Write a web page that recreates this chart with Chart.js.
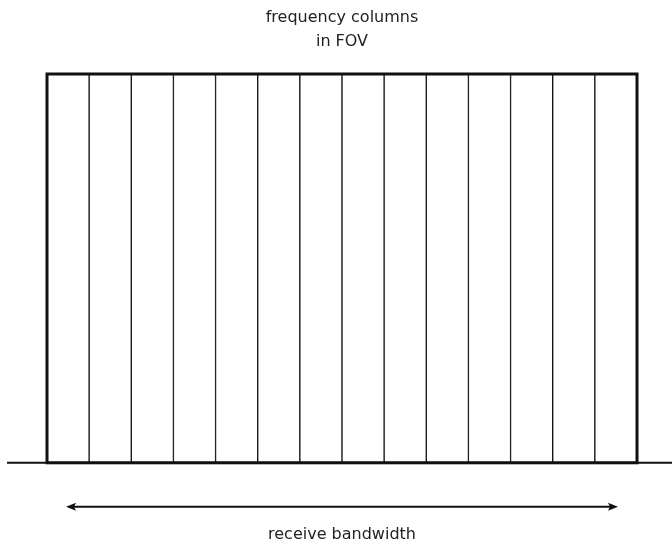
<!DOCTYPE html>
<html>
<head>
<meta charset="utf-8">
<script src="https://cdn.jsdelivr.net/npm/chart.js@4"></script>
<style>
  html, body { margin: 0; padding: 0; background: #fff; }
  #wrap { width: 672px; height: 546px; }
</style>
</head>
<body>
<div id="wrap"><canvas id="fov"></canvas></div>
<script>
// 14 frequency columns, each filling the full height of the FOV
var columns = ["1", "2", "3", "4", "5", "6", "7", "8", "9", "10", "11", "12", "13", "14"];
var heights = [1, 1, 1, 1, 1, 1, 1, 1, 1, 1, 1, 1, 1, 1];
var topTitle = ["frequency columns", "in FOV"];
var bottomTitle = "receive bandwidth";

var fontFamily = "'Humor Sans', 'DejaVu Sans', sans-serif";

// outline, baseline and the bandwidth arrow
var fovDecor = {
    id: "fovDecor",
    afterDatasetsDraw: function (chart) {
        var ctx = chart.ctx;
        var x = chart.scales.x;
        var y = chart.scales.y;
        var half = (x.getPixelForValue(1) - x.getPixelForValue(0)) / 2;
        var left = x.getPixelForValue(0) - half;
        var right = x.getPixelForValue(columns.length - 1) + half;
        var top = y.getPixelForValue(1);
        var bottom = y.getPixelForValue(0);

        ctx.save();
        ctx.strokeStyle = "#111";

        // baseline
        ctx.lineWidth = 2;
        ctx.beginPath();
        ctx.moveTo(7, bottom);
        ctx.lineTo(chart.width, bottom);
        ctx.stroke();

        // outer box
        ctx.lineWidth = 3;
        ctx.strokeRect(left, top, right - left, bottom - top);

        // double arrow
        var ay = bottom + 44;
        var x1 = left + 19;
        var x2 = right - 19;
        ctx.lineWidth = 2;
        ctx.beginPath();
        ctx.moveTo(x1 + 6, ay);
        ctx.lineTo(x2 - 6, ay);
        ctx.stroke();
        ctx.fillStyle = "#111";
        ctx.beginPath();
        ctx.moveTo(x1, ay);
        ctx.lineTo(x1 + 10, ay - 4);
        ctx.lineTo(x1 + 8, ay);
        ctx.lineTo(x1 + 10, ay + 4);
        ctx.closePath();
        ctx.fill();
        ctx.beginPath();
        ctx.moveTo(x2, ay);
        ctx.lineTo(x2 - 10, ay - 4);
        ctx.lineTo(x2 - 8, ay);
        ctx.lineTo(x2 - 10, ay + 4);
        ctx.closePath();
        ctx.fill();
        ctx.restore();
    }
};

var chart = new Chart(document.getElementById("fov").getContext("2d"), {
    type: "bar",
    data: {
        labels: columns,
        datasets: [
            {
                data: heights,
                backgroundColor: "#ffffff",
                borderColor: "#111",
                borderWidth: 1,
                borderSkipped: false,
                barPercentage: 1,
                categoryPercentage: 1
            }
        ]
    },
    options: {
        responsive: true,
        maintainAspectRatio: false,
        animation: false,
        layout: {
            padding: { left: 47, right: 35, top: 0, bottom: 0 }
        },
        plugins: {
            legend: { display: false },
            tooltip: { enabled: false },
            title: {
                display: true,
                text: topTitle,
                color: "#222",
                font: { family: fontFamily, size: 16, weight: "normal", lineHeight: 1.5 },
                padding: { top: 6, bottom: 20 }
            },
            subtitle: {
                display: true,
                position: "bottom",
                text: bottomTitle,
                color: "#222",
                font: { family: fontFamily, size: 16, weight: "normal", lineHeight: 1.2 },
                padding: { top: 62, bottom: 2 }
            }
        },
        scales: {
            x: { display: false },
            y: { display: false, min: 0, max: 1 }
        }
    },
    plugins: [fovDecor]
});
</script>
</body>
</html>
